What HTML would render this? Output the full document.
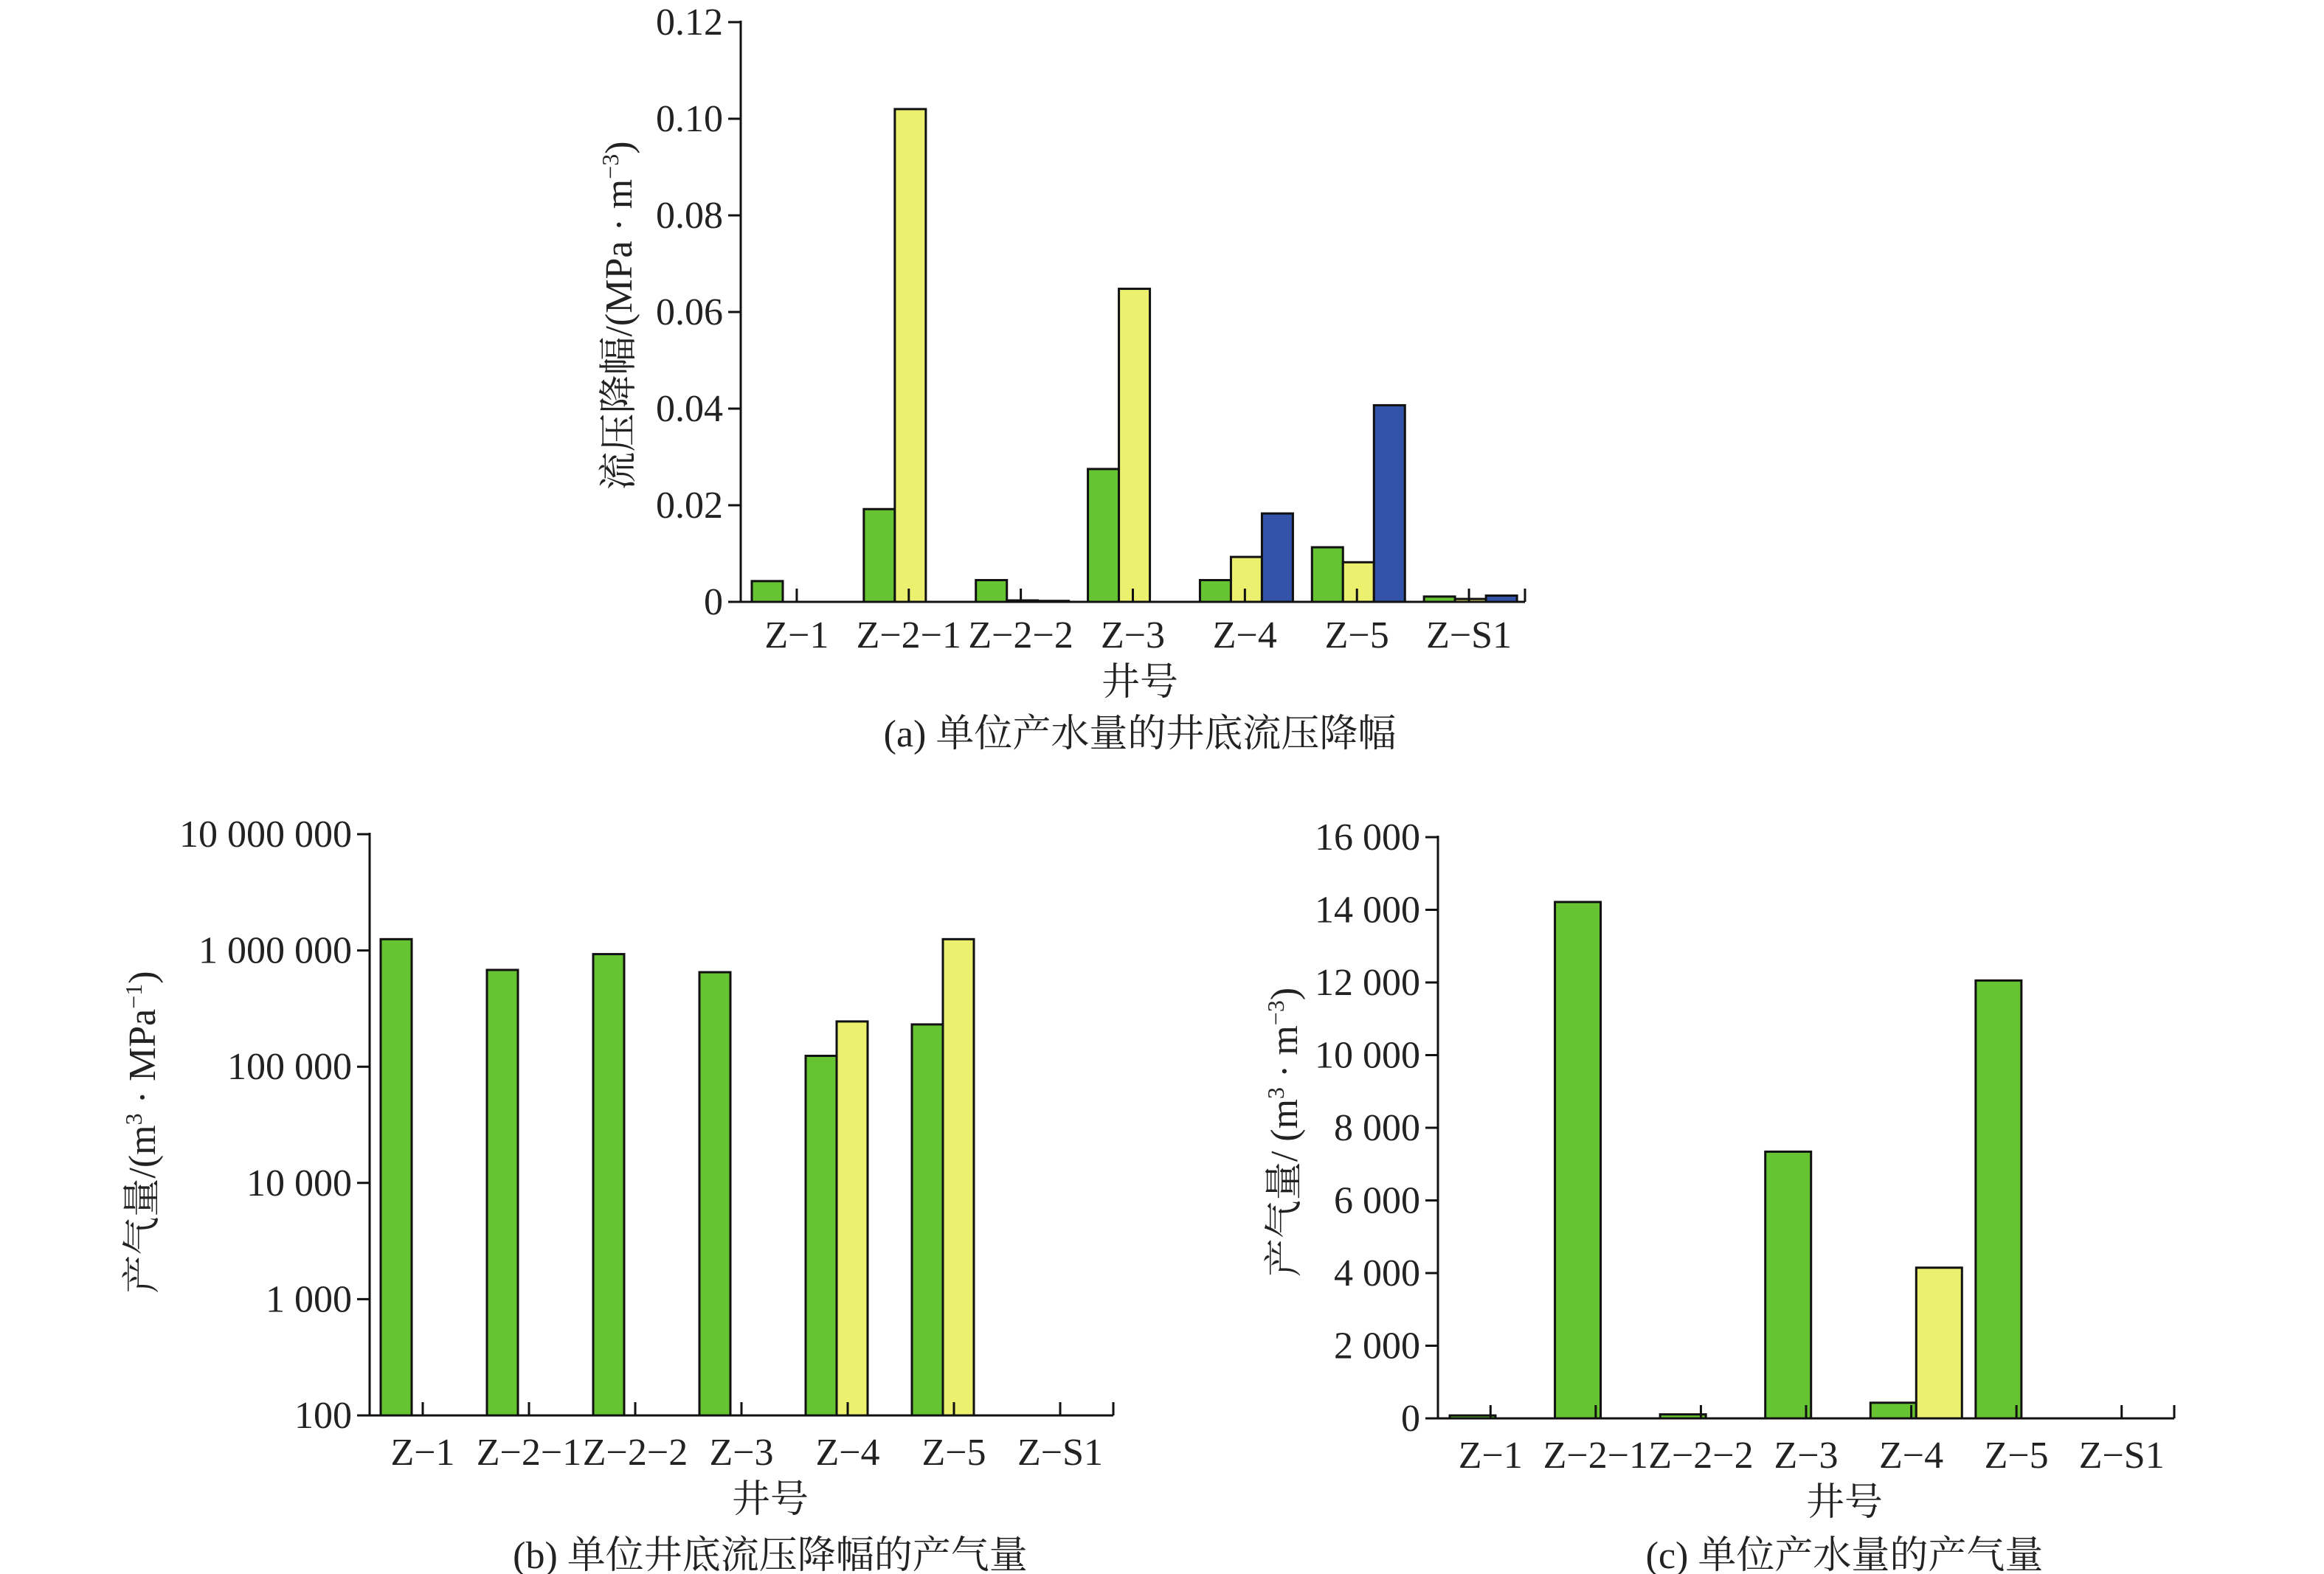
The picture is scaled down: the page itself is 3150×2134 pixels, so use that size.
<!DOCTYPE html>
<html><head><meta charset="utf-8">
<style>
html,body{margin:0;padding:0;background:#fff;overflow:hidden;}
svg{display:block;font-family:"Liberation Serif","Noto Serif CJK SC","Noto Sans CJK SC",serif;}
</style></head>
<body>
<svg id="root" width="3150" height="2134" viewBox="0 0 3150 2134"></svg>
<script>
const categories = ["Z\u22121","Z\u22122\u22121","Z\u22122\u22122","Z\u22123","Z\u22124","Z\u22125","Z\u2212S1"];
// chart (a)
const aGreen  = [0.0043,0.0192,0.0045,0.0275,0.0045,0.0113,0.0011];
const aYellow = [0,0.102,0.0003,0.0648,0.0093,0.0082,0.0006];
const aBlue   = [0,0,0.0002,0,0.0183,0.0407,0.0013];
const aTicks  = [0,0.02,0.04,0.06,0.08,0.10,0.12];
const aTickLabels = ["0","0.02","0.04","0.06","0.08","0.10","0.12"];
// chart (b) log
const bGreen  = [1250000,680000,930000,650000,124000,231000,null];
const bYellow = [null,null,null,null,245000,1250000,null];
const bTicks  = [100,1000,10000,100000,1000000,10000000];
const bTickLabels = ["100","1 000","10 000","100 000","1 000 000","10 000 000"];
// chart (c)
const cGreen  = [80,14215,110,7342,430,12054,null];
const cYellow = [null,null,null,null,4148,null,null];
const cTicks  = [0,2000,4000,6000,8000,10000,12000,14000,16000];
const cTickLabels = ["0","2 000","4 000","6 000","8 000","10 000","12 000","14 000","16 000"];

const NS="http://www.w3.org/2000/svg";
const root=document.getElementById('root');
function mk(tag,attrs,parent){const e=document.createElementNS(NS,tag);for(const k in attrs)e.setAttribute(k,attrs[k]);(parent||root).appendChild(e);return e;}
const COL={g:"#66c432",y:"#ecf06f",b:"#3253a8"};
const FS=52;

function chart(o){
  const g=mk('g',{});
  
  
  const X0=o.x0,X1=o.x1,Y0=o.y0,Y1=o.y1;
  const gw=(X1-X0)/categories.length;
  const yScale=o.log?(v=>Y0-(Math.log10(v)-Math.log10(o.min))/(Math.log10(o.max)-Math.log10(o.min))*(Y0-Y1)):(v=>Y0-(v-o.min)/(o.max-o.min)*(Y0-Y1));
  o.series.forEach((s,si)=>{
    s.vals.forEach((v,i)=>{
      if(v===null||v===undefined||v<=0) return;
      const x=X0+i*gw+o.off+si*o.bw;
      const yt=yScale(v);
      const r=mk('rect',{x:x,y:yt,width:o.bw,height:Math.max(Y0-yt,0.5),fill:COL[s.c],stroke:"#111","stroke-width":3},g);
      
      
    });
  });
  const ya=mk('line',{x1:X0,y1:Y1-2,x2:X0,y2:Y0,stroke:"#111","stroke-width":3},g);
  
  
  const xa=mk('line',{x1:X0,y1:Y0,x2:X1,y2:Y0,stroke:"#111","stroke-width":3},g);
  
  
  o.ticks.forEach((t,i)=>{
    const y=yScale(t);
    mk('line',{x1:X0-17,y1:y,x2:X0,y2:y,stroke:"#111","stroke-width":3},g);
    const tx=mk('text',{x:X0-24,y:y+17,"font-size":FS,"text-anchor":"end",fill:"#222"},g);
    tx.textContent=o.tickLabels[i];
    
    
  });
  categories.forEach((c,i)=>{
    const cx=X0+(i+0.5)*gw;
    mk('line',{x1:cx,y1:Y0-18,x2:cx,y2:Y0,stroke:"#111","stroke-width":3},g);
    const tx=mk('text',{x:cx,y:o.labY,"font-size":FS,"text-anchor":"middle",fill:"#222"},g);
    tx.textContent=c;
    
    
  });
  mk('line',{x1:X1,y1:Y0-18,x2:X1,y2:Y0,stroke:"#111","stroke-width":3},g);
  const xt=mk('text',{x:o.xtX,y:o.xtY,"font-size":FS,"text-anchor":"middle",fill:"#222"},g);
  xt.textContent="井号";
  
  
  const cap=mk('text',{x:o.xtX,y:o.capY,"font-size":FS,"text-anchor":"middle",fill:"#222"},g);
  cap.textContent=o.caption;
  
  
  const yt=mk('text',{x:0,y:0,"font-size":FS,"text-anchor":"middle",fill:"#222",transform:`translate(${o.ytX},${o.ytY}) rotate(-90)`},g);
  
  
  yt.innerHTML=o.ytitle;
}

chart({name:"chart-a",x0:1004,x1:2067,y0:816,y1:30,min:0,max:0.12,log:false,off:15,bw:42,
  series:[{vals:aGreen,c:'g'},{vals:aYellow,c:'y'},{vals:aBlue,c:'b'}],
  ticks:aTicks,tickLabels:aTickLabels,labY:878,xtX:1545,xtY:942,capY:1012,
  caption:"(a) 单位产水量的井底流压降幅",ytX:856,ytY:428,
  ytitle:'流压降幅/(MPa · m<tspan baseline-shift="super" font-size="32">−3</tspan>)'});

chart({name:"chart-b",x0:501,x1:1509,y0:1919,y1:1131,min:100,max:10000000,log:true,off:15,bw:42,
  series:[{vals:bGreen,c:'g'},{vals:bYellow,c:'y'}],
  ticks:bTicks,tickLabels:bTickLabels,labY:1986,xtX:1044,xtY:2050,capY:2126,
  caption:"(b) 单位井底流压降幅的产气量",ytX:210,ytY:1535,
  ytitle:'产气量/(m<tspan baseline-shift="super" font-size="32">3</tspan> · MPa<tspan baseline-shift="super" font-size="32">−1</tspan>)'});

chart({name:"chart-c",x0:1949,x1:2947,y0:1923,y1:1135,min:0,max:16000,log:false,off:16,bw:62,
  series:[{vals:cGreen,c:'g'},{vals:cYellow,c:'y'}],
  ticks:cTicks,tickLabels:cTickLabels,labY:1990,xtX:2500,xtY:2054,capY:2126,
  caption:"(c) 单位产水量的产气量",ytX:1758,ytY:1535,
  ytitle:'产气量/ (m<tspan baseline-shift="super" font-size="32">3</tspan> · m<tspan baseline-shift="super" font-size="32">−3</tspan>)'});
</script>
</body></html>
